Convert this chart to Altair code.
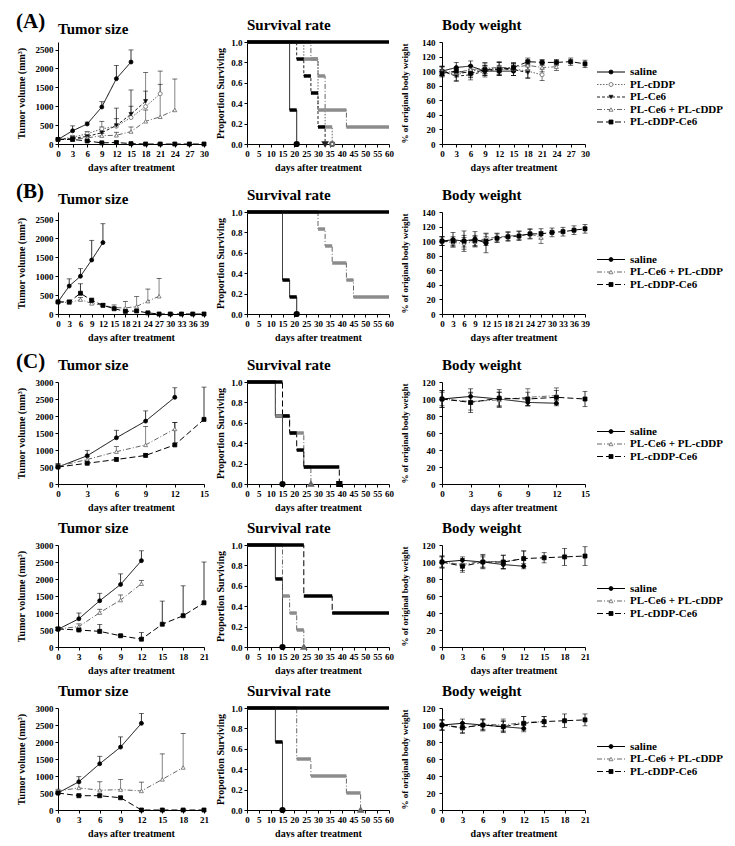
import altair as alt
import pandas as pd

FONT = "Liberation Serif"

SERIES = ["saline", "PL-cDDP", "PL-Ce6", "PL-Ce6 + PL-cDDP", "PL-cDDP-Ce6"]
DASHES = [[1, 0], [1.5, 1.5], [3, 2], [5, 2, 1, 2], [6, 3]]
SHAPES = ["circle", "circle", "triangle-down", "triangle-up", "square"]
FILLS = ["black", "white", "black", "white", "black"]
STROKES = ["black", "#666666", "#222222", "#666666", "black"]
BANDS = ["black", "#8c8c8c", "black", "#8c8c8c", "black"]
THREE = ["saline", "PL-Ce6 + PL-cDDP", "PL-cDDP-Ce6"]

# ---------------- Row A ----------------
A_TUMOR_DAYS = [0, 3, 6, 9, 12, 15, 18, 21, 24, 27, 30]
A_TUMOR = {
    "saline": [120, 350, 530, 980, 1730, 2170],
    "PL-cDDP": [120, 180, 270, 400, 470, 700, 990, 1330],
    "PL-Ce6": [120, 150, 200, 300, 490, 790, 1130],
    "PL-Ce6 + PL-cDDP": [120, 130, 160, 220, 230, 330, 600, 720, 900],
    "PL-cDDP-Ce6": [120, 120, 80, 30, 40, 10, 0, 0, 0, 0, 0],
}
A_TUMOR_ERR = {
    "saline": [0, 130, 50, 140, 350, 320],
    "PL-cDDP": [0, 40, 60, 200, 200, 300, 900, 600],
    "PL-Ce6": [0, 30, 40, 150, 460, 640, 270],
    "PL-Ce6 + PL-cDDP": [0, 30, 40, 60, 80, 120, 300, 860, 820],
    "PL-cDDP-Ce6": [0, 20, 20, 10, 30, 10, 0, 0, 0, 0, 0],
}
A_SURV = {
    "saline": [(0, 1), (18, 0.333), (21, 0)],
    "PL-cDDP": [(0, 1), (24, 0.833), (30, 0.333), (33, 0.167), (36, 0)],
    "PL-Ce6": [(0, 1), (21, 0.833), (24, 0.667), (27, 0.5), (30, 0.167), (33, 0)],
    "PL-Ce6 + PL-cDDP": [(0, 1), (27, 0.833), (30, 0.667), (33, 0.333), (42, 0.167), (60, 0.167)],
    "PL-cDDP-Ce6": [(0, 1), (60, 1)],
}
A_BODY_DAYS = [0, 3, 6, 9, 12, 15, 18, 21, 24, 27, 30]
A_BODY = {
    "saline": [100, 105, 107, 100, 100, 100],
    "PL-cDDP": [100, 95, 100, 103, 104, 103, 100, 95],
    "PL-Ce6": [100, 93, 95, 100, 103, 102, 98],
    "PL-Ce6 + PL-cDDP": [100, 98, 102, 104, 105, 105, 108, 105, 106],
    "PL-cDDP-Ce6": [97, 100, 97, 102, 102, 105, 113, 112, 112, 113, 110],
}
A_BODY_ERR = {
    "saline": [6, 7, 7, 6, 6, 6],
    "PL-cDDP": [7, 8, 8, 9, 9, 9, 9, 8],
    "PL-Ce6": [6, 7, 7, 8, 9, 8, 8],
    "PL-Ce6 + PL-cDDP": [6, 6, 6, 7, 7, 6, 6, 6, 5],
    "PL-cDDP-Ce6": [5, 5, 6, 6, 6, 5, 5, 4, 4, 5, 5],
}

# ---------------- Row B ----------------
B_TUMOR_DAYS = [0, 3, 6, 9, 12, 15, 18, 21, 24, 27, 30, 33, 36, 39]
B_TUMOR = {
    "saline": [320, 740, 1000, 1430, 1890],
    "PL-Ce6 + PL-cDDP": [320, 300, 380, 280, 230, 170, 160, 200, 340, 470],
    "PL-cDDP-Ce6": [320, 320, 550, 360, 230, 140, 70, 80, 30, 0, 0, 0, 0, 0],
}
B_TUMOR_ERR = {
    "saline": [0, 190, 200, 520, 500],
    "PL-Ce6 + PL-cDDP": [0, 30, 60, 60, 40, 70, 170, 260, 320, 470],
    "PL-cDDP-Ce6": [0, 40, 250, 60, 40, 30, 30, 30, 20, 0, 0, 0, 0, 0],
}
B_SURV = {
    "saline": [(0, 1), (15, 0.333), (18, 0.167), (21, 0)],
    "PL-Ce6 + PL-cDDP": [(0, 1), (30, 0.833), (33, 0.667), (36, 0.5), (42, 0.333), (45, 0.167), (60, 0.167)],
    "PL-cDDP-Ce6": [(0, 1), (60, 1)],
}
B_BODY_DAYS = [0, 3, 6, 9, 12, 15, 18, 21, 24, 27, 30, 33, 36, 39]
B_BODY = {
    "saline": [100, 102, 100, 103, 97],
    "PL-Ce6 + PL-cDDP": [100, 98, 97, 99, 104, 105, 107, 108, 110, 105],
    "PL-cDDP-Ce6": [100, 100, 100, 101, 100, 104, 106, 107, 110, 110, 112, 113, 115, 117],
}
B_BODY_ERR = {
    "saline": [6, 10, 14, 10, 13],
    "PL-Ce6 + PL-cDDP": [6, 6, 8, 7, 7, 6, 6, 6, 7, 8],
    "PL-cDDP-Ce6": [6, 6, 8, 7, 6, 6, 6, 6, 6, 7, 6, 6, 6, 6],
}

# ---------------- Row C1 ----------------
C1_TUMOR_DAYS = [0, 3, 6, 9, 12, 15]
C1_TUMOR = {
    "saline": [500, 830, 1360, 1850, 2550],
    "PL-Ce6 + PL-cDDP": [520, 720, 950, 1150, 1620],
    "PL-cDDP-Ce6": [500, 610, 720, 840, 1150, 1900],
}
C1_TUMOR_ERR = {
    "saline": [100, 160, 220, 300, 280],
    "PL-Ce6 + PL-cDDP": [60, 80, 150, 540, 190],
    "PL-cDDP-Ce6": [60, 40, 50, 60, 660, 950],
}
C1_SURV = {
    "saline": [(0, 1), (12, 0.667), (15, 0)],
    "PL-Ce6 + PL-cDDP": [(0, 1), (12, 0.667), (18, 0.5), (24, 0.167), (27, 0)],
    "PL-cDDP-Ce6": [(0, 1), (15, 0.667), (18, 0.5), (21, 0.333), (24, 0.167), (39, 0)],
}
C1_BODY_DAYS = [0, 3, 6, 9, 12, 15]
C1_BODY = {
    "saline": [100, 103, 100, 96, 95],
    "PL-Ce6 + PL-cDDP": [100, 97, 99, 102, 104],
    "PL-cDDP-Ce6": [100, 96, 101, 100, 102, 100],
}
C1_BODY_ERR = {
    "saline": [10, 9, 8, 4, 3],
    "PL-Ce6 + PL-cDDP": [8, 10, 9, 10, 9],
    "PL-cDDP-Ce6": [10, 12, 10, 8, 8, 9],
}

# ---------------- Row C2 ----------------
C2_TUMOR_DAYS = [0, 3, 6, 9, 12, 15, 18, 21]
C2_TUMOR = {
    "saline": [520, 830, 1360, 1840, 2540],
    "PL-Ce6 + PL-cDDP": [530, 600, 1010, 1380, 1860],
    "PL-cDDP-Ce6": [530, 500, 460, 330, 230, 670, 920, 1300],
}
C2_TUMOR_ERR = {
    "saline": [60, 170, 220, 310, 290],
    "PL-Ce6 + PL-cDDP": [50, 80, 100, 150, 100],
    "PL-cDDP-Ce6": [50, 60, 200, 40, 200, 680, 880, 1200],
}
C2_SURV = {
    "saline": [(0, 1), (12, 0.667), (15, 0)],
    "PL-Ce6 + PL-cDDP": [(0, 1), (15, 0.5), (18, 0.333), (21, 0.167), (24, 0)],
    "PL-cDDP-Ce6": [(0, 1), (24, 0.5), (36, 0.333), (60, 0.333)],
}
C2_BODY_DAYS = [0, 3, 6, 9, 12, 15, 18, 21]
C2_BODY = {
    "saline": [100, 102, 100, 97, 95],
    "PL-Ce6 + PL-cDDP": [100, 97, 101, 100, 104],
    "PL-cDDP-Ce6": [100, 95, 100, 100, 104, 105, 106, 107],
}
C2_BODY_ERR = {
    "saline": [6, 4, 6, 5, 3],
    "PL-Ce6 + PL-cDDP": [7, 7, 8, 8, 9],
    "PL-cDDP-Ce6": [7, 7, 8, 8, 9, 6, 10, 11],
}

# ---------------- Row C3 ----------------
C3_TUMOR_DAYS = [0, 3, 6, 9, 12, 15, 18, 21]
C3_TUMOR = {
    "saline": [500, 830, 1360, 1850, 2550],
    "PL-Ce6 + PL-cDDP": [560, 650, 580, 600, 560, 900, 1250],
    "PL-cDDP-Ce6": [500, 420, 420, 360, 0, 0, 0, 0],
}
C3_TUMOR_ERR = {
    "saline": [60, 150, 220, 300, 290],
    "PL-Ce6 + PL-cDDP": [50, 150, 250, 300, 260, 750, 1000],
    "PL-cDDP-Ce6": [30, 50, 50, 40, 0, 0, 0, 0],
}
C3_SURV = {
    "saline": [(0, 1), (12, 0.667), (15, 0)],
    "PL-Ce6 + PL-cDDP": [(0, 1), (21, 0.5), (27, 0.333), (42, 0.167), (48, 0)],
    "PL-cDDP-Ce6": [(0, 1), (60, 1)],
}
C3_BODY_DAYS = [0, 3, 6, 9, 12, 15, 18, 21]
C3_BODY = {
    "saline": [100, 102, 100, 98, 96],
    "PL-Ce6 + PL-cDDP": [100, 96, 101, 100, 103, 104],
    "PL-cDDP-Ce6": [100, 97, 100, 98, 102, 104, 105, 106],
}
C3_BODY_ERR = {
    "saline": [6, 5, 6, 6, 4],
    "PL-Ce6 + PL-cDDP": [6, 6, 6, 7, 7, 6],
    "PL-cDDP-Ce6": [6, 6, 7, 7, 8, 6, 8, 7],
}

# ---------------- helpers ----------------
PW_T, PW_S, PW_B, PH = 146, 142, 143, 102

dash_sc = alt.Scale(domain=SERIES, range=DASHES)
shape_sc = alt.Scale(domain=SERIES, range=SHAPES)
fill_sc = alt.Scale(domain=SERIES, range=FILLS)
stroke_sc = alt.Scale(domain=SERIES, range=STROKES)
band_sc = alt.Scale(domain=SERIES, range=BANDS)


def ptitle(text):
    return alt.TitleParams(text, anchor="start", frame="group", fontSize=15,
                           font=FONT, fontWeight="bold", offset=5, color="black")


def long_rows(days, means, errs):
    rows = []
    for s in means:
        for d, v, e in zip(days, means[s], errs[s]):
            rows.append(dict(s=s, day=d, v=v, lo=v - e, hi=v + e, e=e))
    return pd.DataFrame(rows)


def xy_panel(days, means, errs, xmax, ymax, ystep, ytitle, title, both, ytp, ylp, width, ytfs):
    df = long_rows(days, means, errs)
    xs = alt.Scale(domain=[0, xmax], nice=False)
    ys = alt.Scale(domain=[0, ymax], nice=False)
    xax = alt.Axis(values=list(range(0, xmax + 1, 3)), title="days after treatment")
    yax = alt.Axis(values=list(range(0, ymax + 1, ystep)), title=ytitle, titlePadding=ytp,
                   labelPadding=ylp, format="d", titleFontSize=ytfs)
    X = alt.X("day:Q", scale=xs, axis=xax)
    base = alt.Chart(df)
    errdf = base.transform_filter("datum.e > 0")
    lo_field = "lo:Q" if both else "v:Q"
    err = errdf.mark_rule(strokeWidth=0.8).encode(
        x=X, y=alt.Y(lo_field, scale=ys, axis=yax), y2="hi:Q",
        stroke=alt.Stroke("s:N", scale=stroke_sc, legend=None))
    cap_hi = errdf.mark_tick(orient="horizontal", size=5, thickness=0.8).encode(
        x=X, y=alt.Y("hi:Q", scale=ys, axis=yax), color=alt.value("black"))
    layers = [err, cap_hi]
    if both:
        cap_lo = errdf.mark_tick(orient="horizontal", size=5, thickness=0.8).encode(
            x=X, y=alt.Y("lo:Q", scale=ys, axis=yax), color=alt.value("black"))
        layers.append(cap_lo)
    line = base.mark_line(strokeWidth=1).encode(
        x=X, y=alt.Y("v:Q", scale=ys, axis=yax),
        stroke=alt.Stroke("s:N", scale=stroke_sc, legend=None),
        strokeDash=alt.StrokeDash("s:N", scale=dash_sc, legend=None),
        detail="s:N")
    pts = base.mark_point(filled=True, size=16, strokeWidth=0.8, opacity=1).encode(
        x=X, y=alt.Y("v:Q", scale=ys, axis=yax),
        shape=alt.Shape("s:N", scale=shape_sc, legend=None),
        fill=alt.Fill("s:N", scale=fill_sc, legend=None),
        stroke=alt.Stroke("s:N", scale=stroke_sc, legend=None))
    layers += [line, pts]
    return alt.layer(*layers).properties(width=width, height=PH, title=ptitle(title))


def surv_panel(surv):
    steps, bands, ends = [], [], []
    for s, pts in surv.items():
        for i, (d, v) in enumerate(pts):
            steps.append(dict(s=s, day=d, v=v, i=i))
            if i + 1 < len(pts) and v > 0:
                bands.append(dict(s=s, x0=d, x1=pts[i + 1][0], v=v))
        if pts[-1][1] == 0:
            ends.append(dict(s=s, day=pts[-1][0], v=0))
    xs = alt.Scale(domain=[0, 60], nice=False)
    ys = alt.Scale(domain=[0, 1], nice=False)
    xax = alt.Axis(values=list(range(0, 61, 5)), title="days after treatment")
    yax = alt.Axis(values=[0, 0.2, 0.4, 0.6, 0.8, 1.0], format=".1f",
                   title="Proportion Surviving", titlePadding=5)
    line = alt.Chart(pd.DataFrame(steps)).mark_line(
        strokeWidth=1, interpolate="step-after").encode(
        x=alt.X("day:Q", scale=xs, axis=xax),
        y=alt.Y("v:Q", scale=ys, axis=yax),
        order="i:Q",
        stroke=alt.Stroke("s:N", scale=stroke_sc, legend=None),
        strokeDash=alt.StrokeDash("s:N", scale=dash_sc, legend=None),
        detail="s:N")
    band = alt.Chart(pd.DataFrame(bands)).mark_rule(strokeWidth=3.5, strokeCap="butt").encode(
        x=alt.X("x0:Q", scale=xs, axis=xax), x2="x1:Q",
        y=alt.Y("v:Q", scale=ys, axis=yax),
        color=alt.Color("s:N", scale=band_sc, legend=None))
    layers = [line, band]
    if ends:
        end = alt.Chart(pd.DataFrame(ends)).mark_point(filled=True, size=18, opacity=1).encode(
            x=alt.X("day:Q", scale=xs, axis=xax),
            y=alt.Y("v:Q", scale=ys, axis=yax),
            shape=alt.Shape("s:N", scale=shape_sc, legend=None),
            fill=alt.Fill("s:N", scale=fill_sc, legend=None),
            stroke=alt.Stroke("s:N", scale=stroke_sc, legend=None))
        layers.append(end)
    return alt.layer(*layers).properties(width=PW_S, height=PH, title=ptitle("Survival rate"))


def legend_panel(names, shift):
    n = len(names)
    half = PH / 12.5 / 2.0
    mid = (n - 1) / 2.0 - shift / 12.5
    df = pd.DataFrame({"s": names, "k": list(range(n))})
    Y = alt.Y("k:Q", scale=alt.Scale(domain=[mid - half, mid + half], reverse=True, nice=False,
                                     zero=False), axis=None)
    base = alt.Chart(df)
    rule = base.mark_rule(strokeWidth=1).encode(
        x=alt.value(0), x2=alt.value(28), y=Y,
        stroke=alt.Stroke("s:N", scale=stroke_sc, legend=None),
        strokeDash=alt.StrokeDash("s:N", scale=dash_sc, legend=None))
    pt = base.mark_point(filled=True, size=16, strokeWidth=0.8, opacity=1).encode(
        x=alt.value(14), y=Y,
        shape=alt.Shape("s:N", scale=shape_sc, legend=None),
        fill=alt.Fill("s:N", scale=fill_sc, legend=None),
        stroke=alt.Stroke("s:N", scale=stroke_sc, legend=None))
    txt = base.mark_text(align="left", baseline="middle", font=FONT, fontWeight="bold",
                         fontSize=11, color="black").encode(
        x=alt.value(33), y=Y, text="s:N")
    return alt.layer(rule, pt, txt).properties(width=122, height=PH)


def row(label, tumor, surv, body, names, tmax, tymax, bmax, shift):
    t = xy_panel(tumor[0], tumor[1], tumor[2], tmax, tymax, 500,
                 "Tumor volume (mm³)", "Tumor size", False, 9, 2, PW_T, 10)
    s = surv_panel(surv)
    b = xy_panel(body[0], body[1], body[2], tmax, bmax, 20,
                 "% of original body weight", "Body weight", True, 12, 4, PW_B, 9)
    lg = legend_panel(names, shift)
    kw = dict(spacing=6)
    if label:
        kw["title"] = alt.TitleParams(label, anchor="start", frame="bounds", fontSize=21,
                                      font=FONT, fontWeight="bold", offset=-14, color="black")
    return alt.hconcat(t, s, b, lg, **kw)


rA = row("(A)", (A_TUMOR_DAYS, A_TUMOR, A_TUMOR_ERR), A_SURV,
         (A_BODY_DAYS, A_BODY, A_BODY_ERR), SERIES, 30, 2700, 140, 4)
rB = row("(B)", (B_TUMOR_DAYS, B_TUMOR, B_TUMOR_ERR), B_SURV,
         (B_BODY_DAYS, B_BODY, B_BODY_ERR), THREE, 39, 2700, 140, 9)
rC1 = row("(C)", (C1_TUMOR_DAYS, C1_TUMOR, C1_TUMOR_ERR), C1_SURV,
          (C1_BODY_DAYS, C1_BODY, C1_BODY_ERR), THREE, 15, 3000, 120, 11)
rC2 = row(None, (C2_TUMOR_DAYS, C2_TUMOR, C2_TUMOR_ERR), C2_SURV,
          (C2_BODY_DAYS, C2_BODY, C2_BODY_ERR), THREE, 21, 3000, 120, 5)
rC3 = row(None, (C3_TUMOR_DAYS, C3_TUMOR, C3_TUMOR_ERR), C3_SURV,
          (C3_BODY_DAYS, C3_BODY, C3_BODY_ERR), THREE, 21, 3000, 120, 0)

chart = alt.vconcat(rA, rB, rC1, rC2, rC3, spacing=9).properties(
    padding={"left": 8, "top": 3, "right": 0, "bottom": 0},
    background="white",
).configure_view(stroke=None).configure_axis(
    grid=False, domainColor="black", tickColor="black", tickSize=3,
    labelFont=FONT, labelFontWeight="bold", labelFontSize=9, labelColor="black",
    titleFont=FONT, titleFontWeight="bold", titleFontSize=10, titleColor="black",
    labelPadding=2, titlePadding=4, domainWidth=1, labelOverlap=False, labelFlush=False
)

chart.save("out.html", embed_options={"renderer": "svg", "actions": False})
